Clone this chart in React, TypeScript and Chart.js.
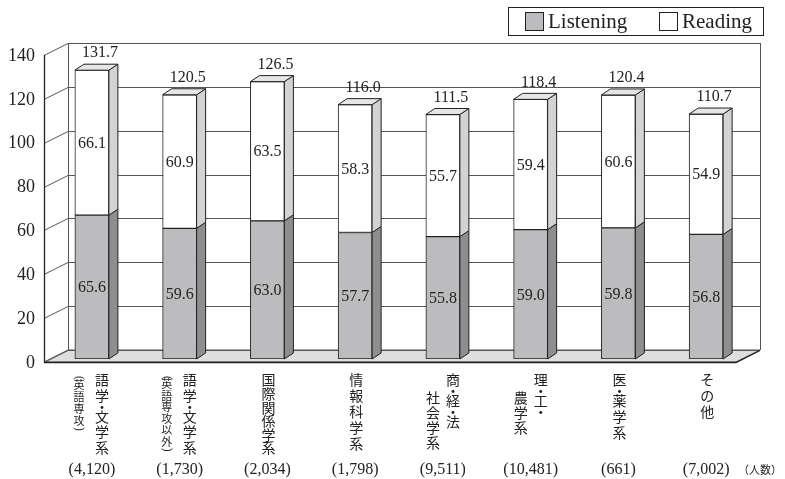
import { useEffect, useRef } from 'react';
import { Chart, registerables } from 'chart.js';

Chart.register(...registerables);

// Main vertical caption of each field (right-hand column)
const categoryMain = ['語学・文学系', '語学・文学系', '国際関係学系', '情報科学系', '商・経・法', '理・工・', '医・薬学系', 'その他'];
// Second column: small note in parentheses, or continuation of the caption
const categorySecond = ['（英語専攻）', '（英語専攻以外）', '', '', '社会学系', '農学系', '', ''];
// Number of examinees per field
const counts = ['4,120', '1,730', '2,034', '1,798', '9,511', '10,481', '661', '7,002'];
const listening = [65.6, 59.6, 63.0, 57.7, 55.8, 59.0, 59.8, 56.8];
const reading = [66.1, 60.9, 63.5, 58.3, 55.7, 59.4, 60.6, 54.9];
// Printed totals above each column
const totals = ['131.7', '120.5', '126.5', '116.0', '111.5', '118.4', '120.4', '110.7'];
const yTicks = [0, 20, 40, 60, 80, 100, 120, 140];

const SERIF = '"Liberation Serif", "DejaVu Serif", serif';
const CJK = '"Noto Sans CJK JP", "Noto Sans CJK SC", sans-serif';

// oblique depth of the wall box and of each column
const WALL_DX = 24;
const WALL_DY = -12;
const BAR_DX = 9;
const BAR_DY = -6;
const BAR_LIFT = -3;

const COLORS = {
  lFront: '#bcbcbe',
  lSide: '#8e8e90',
  rFront: '#ffffff',
  rSide: '#d3d3d3',
  rTop: '#e6e6e6',
  floor: '#dedede',
  grid: '#555555',
  edge: '#222222',
  text: '#222222',
};

function poly(ctx: CanvasRenderingContext2D, pts: number[][], fill: string, stroke: string, lw = 1) {
  ctx.beginPath();
  ctx.moveTo(pts[0][0], pts[0][1]);
  for (let i = 1; i < pts.length; i++) ctx.lineTo(pts[i][0], pts[i][1]);
  ctx.closePath();
  ctx.fillStyle = fill;
  ctx.fill();
  ctx.lineWidth = lw;
  ctx.strokeStyle = stroke;
  ctx.stroke();
}

// advance of one glyph in a vertical column, in cells
function cellsOf(ch: string) {
  if (ch === '・') return 0.3;
  if (ch === '（' || ch === '）') return 0.5;
  return 1;
}

// draws a column of text top-to-bottom, squeezing the pitch to fit maxLen
function drawVertical(ctx: CanvasRenderingContext2D, text: string, x: number, yTop: number, size: number, pitch: number, maxLen: number) {
  const chars = Array.from(text);
  const cells = chars.reduce((s, c) => s + cellsOf(c), 0);
  const p = Math.min(pitch, cells > 1 ? (maxLen - size) / (cells - 1) : pitch);
  ctx.textAlign = 'center';
  ctx.textBaseline = 'middle';
  let y = yTop;
  for (const ch of chars) {
    const adv = cellsOf(ch) * p;
    if (ch === '（' || ch === '）') {
      ctx.save();
      ctx.font = `${size * 1.05}px ${SERIF}`;
      ctx.translate(x, y + adv / 2 + (ch === '（' ? 2 : -1));
      ctx.rotate(Math.PI / 2);
      ctx.fillText(ch === '（' ? '(' : ')', 0, 0);
      ctx.restore();
    } else if (ch === '・') {
      ctx.font = `${size}px ${CJK}`;
      ctx.fillText(ch, x, y + adv / 2 - p * 0.05);
    } else {
      ctx.font = `${size}px ${CJK}`;
      ctx.fillText(ch, x, y + size / 2);
    }
    y += ch === '・' || ch === '（' || ch === '）' ? adv : p;
  }
}

const boxPlugin = {
  id: 'box3d',
  beforeDatasetsDraw(chart: any) {
    const ctx: CanvasRenderingContext2D = chart.ctx;
    const { left, right } = chart.chartArea;
    const ys = chart.scales.y;
    const FL = left - 4;
    const FR = right - 14;
    const y0 = ys.getPixelForValue(0);
    const yMax = ys.getPixelForValue(yTicks[yTicks.length - 1]);

    ctx.save();
    // back wall
    ctx.fillStyle = '#ffffff';
    ctx.fillRect(FL + WALL_DX, yMax + WALL_DY, FR - FL, y0 - yMax);
    // floor
    poly(ctx, [[FL, y0], [FR, y0], [FR + WALL_DX, y0 + WALL_DY], [FL + WALL_DX, y0 + WALL_DY]], COLORS.floor, COLORS.grid);

    // gridlines on the side wall and the back wall
    ctx.strokeStyle = COLORS.grid;
    ctx.lineWidth = 1;
    for (const v of yTicks) {
      const py = Math.round(ys.getPixelForValue(v)) + 0.5;
      ctx.beginPath();
      ctx.moveTo(FL, py);
      ctx.lineTo(FL + WALL_DX, py + WALL_DY);
      ctx.lineTo(FR + WALL_DX, py + WALL_DY);
      ctx.stroke();
    }
    // wall verticals
    ctx.beginPath();
    ctx.moveTo(FL + WALL_DX + 0.5, yMax + WALL_DY);
    ctx.lineTo(FL + WALL_DX + 0.5, y0 + WALL_DY);
    ctx.moveTo(FR + WALL_DX + 0.5, yMax + WALL_DY);
    ctx.lineTo(FR + WALL_DX + 0.5, y0 + WALL_DY);
    ctx.stroke();

    // front value axis and floor front edge
    ctx.strokeStyle = COLORS.edge;
    ctx.lineWidth = 1.3;
    ctx.beginPath();
    ctx.moveTo(FL + 0.5, yMax);
    ctx.lineTo(FL + 0.5, y0 + 0.5);
    ctx.lineTo(FR, y0 + 0.5);
    ctx.lineTo(FR + WALL_DX, y0 + WALL_DY + 0.5);
    ctx.stroke();

    // tick labels
    ctx.fillStyle = COLORS.text;
    ctx.font = `18px ${SERIF}`;
    ctx.textAlign = 'right';
    ctx.textBaseline = 'middle';
    for (const v of yTicks) {
      ctx.fillText(String(v), FL - 9, ys.getPixelForValue(v) + 1);
    }
    ctx.restore();

    // columns are drawn slightly lifted into the box
    ctx.save();
    ctx.translate(0, BAR_LIFT);
  },
  afterDatasetsDraw(chart: any) {
    const ctx: CanvasRenderingContext2D = chart.ctx;
    ctx.restore();
    const ys = chart.scales.y;
    const meta = chart.getDatasetMeta(0);
    ctx.save();
    for (let i = 0; i < listening.length; i++) {
      const el = meta.data[i];
      const x = el.x;
      const w = el.width;
      const xl = x - w / 2;
      const xr = x + w / 2;
      const yB = ys.getPixelForValue(0) + BAR_LIFT;
      const yL = ys.getPixelForValue(listening[i]) + BAR_LIFT;
      const yT = ys.getPixelForValue(listening[i] + reading[i]) + BAR_LIFT;

      poly(ctx, [[xr, yB], [xr + BAR_DX, yB + BAR_DY], [xr + BAR_DX, yL + BAR_DY], [xr, yL]], COLORS.lSide, COLORS.edge);
      poly(ctx, [[xr, yL], [xr + BAR_DX, yL + BAR_DY], [xr + BAR_DX, yT + BAR_DY], [xr, yT]], COLORS.rSide, COLORS.edge);
      poly(ctx, [[xl, yT], [xl + BAR_DX, yT + BAR_DY], [xr + BAR_DX, yT + BAR_DY], [xr, yT]], COLORS.rTop, COLORS.edge);

      ctx.fillStyle = COLORS.text;
      ctx.textAlign = 'center';
      ctx.textBaseline = 'middle';
      ctx.font = `16px ${SERIF}`;
      ctx.fillText(listening[i].toFixed(1), x, (yB + yL) / 2 + 1);
      ctx.fillText(reading[i].toFixed(1), x, (yL + yT) / 2 + 1);
      ctx.fillText(totals[i], x + 8, yT - 17);
    }
    ctx.restore();
  },
  afterDraw(chart: any) {
    const ctx: CanvasRenderingContext2D = chart.ctx;
    const meta = chart.getDatasetMeta(0);
    ctx.save();
    ctx.fillStyle = COLORS.text;

    // vertical field captions
    for (let i = 0; i < categoryMain.length; i++) {
      const x = meta.data[i].x;
      const second = categorySecond[i];
      if (!second) {
        drawVertical(ctx, categoryMain[i], x + 1, 373, 14, 16, 82);
      } else if (second.startsWith('（')) {
        drawVertical(ctx, categoryMain[i], x + 10, 373, 14, 16, 82);
        drawVertical(ctx, second, x - 13, 373, 11, 12, 80);
      } else {
        drawVertical(ctx, categoryMain[i], x + 10, 373, 14, 16, 82);
        drawVertical(ctx, second, x - 10, 391, 14, 15, 82);
      }
      ctx.font = `16px ${SERIF}`;
      ctx.textAlign = 'center';
      ctx.textBaseline = 'middle';
      ctx.fillText(`(${counts[i]})`, x, 470);
    }
    ctx.font = `11px ${CJK}`;
    ctx.textAlign = 'center';
    ctx.textBaseline = 'middle';
    ctx.fillText('（人数）', 760, 470);

    // legend
    ctx.strokeStyle = COLORS.edge;
    ctx.lineWidth = 1;
    ctx.fillStyle = '#ffffff';
    ctx.fillRect(508.5, 7.5, 255, 28);
    ctx.strokeRect(508.5, 7.5, 255, 28);
    const items = chart.data.datasets.map((d: any) => ({ label: d.label, color: d.backgroundColor }));
    const pos = [525, 659];
    items.forEach((it: any, k: number) => {
      const sx = pos[k];
      ctx.fillStyle = it.color;
      ctx.fillRect(sx + 0.5, 12.5, 18, 18);
      ctx.strokeStyle = COLORS.edge;
      ctx.strokeRect(sx + 0.5, 12.5, 18, 18);
      ctx.fillStyle = COLORS.text;
      ctx.font = `21px ${SERIF}`;
      ctx.textAlign = 'left';
      ctx.textBaseline = 'middle';
      ctx.fillText(it.label, sx + 23, 22);
    });
    ctx.restore();
  },
};

export default function App() {
  const ref = useRef<HTMLCanvasElement | null>(null);

  useEffect(() => {
    if (!ref.current) return;
    const chart = new Chart(ref.current, {
      type: 'bar',
      data: {
        labels: categoryMain.map((m, i) => m + categorySecond[i]),
        datasets: [
          {
            label: 'Listening',
            data: listening,
            backgroundColor: COLORS.lFront,
            borderColor: COLORS.edge,
            borderWidth: 1,
            borderSkipped: false,
            barThickness: 34,
          },
          {
            label: 'Reading',
            data: reading,
            backgroundColor: COLORS.rFront,
            borderColor: COLORS.edge,
            borderWidth: 1,
            borderSkipped: false,
            barThickness: 34,
          },
        ],
      },
      options: {
        responsive: false,
        animation: false,
        devicePixelRatio: 1,
        layout: { padding: { left: 48, right: 35, top: 55, bottom: 117 } },
        plugins: { legend: { display: false }, tooltip: { enabled: false } },
        scales: {
          x: { stacked: true, display: false },
          y: { stacked: true, display: false, min: 0, max: 140 },
        },
      },
      plugins: [boxPlugin],
    });
    return () => chart.destroy();
  }, []);

  return (
    <div style={{ position: 'absolute', left: 0, top: 0, width: 785, height: 479, background: '#fff' }}>
      <canvas ref={ref} width={785} height={479} style={{ display: 'block' }} />
    </div>
  );
}
